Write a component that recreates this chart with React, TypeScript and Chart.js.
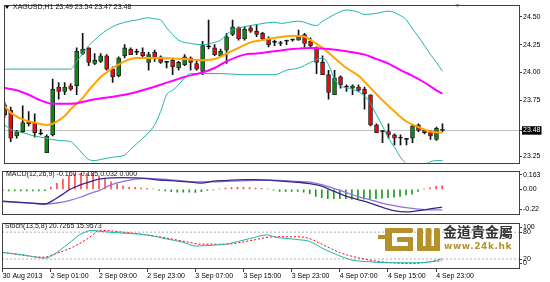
import React, { useEffect, useRef } from 'react';
import { Chart, registerables } from 'chart.js';

Chart.register(...registerables);

// ---------- texts ----------
const symbolLabel = 'XAGUSD,H1';
const macdLabel = 'MACD(12,26,9) -0.160 -0.185 0.032 0.000';
const stochLabel = 'Stoch(13,5,8) 20.7265 15.9573';
const brandName = '金道貴金屬';
const brandUrl = 'www.24k.hk';

// ---------- H1 price bars ----------
const barOpen = [23.71, 23.66, 23.43, 23.47, 23.56, 23.55, 23.45, 23.28, 23.44, 23.87, 23.83, 23.88, 23.88, 24.17, 24.22, 24.08, 24.10, 24.15, 24.03, 23.97, 24.15, 24.21, 24.18, 24.18, 24.09, 24.18, 24.14, 24.09, 24.11, 24.04, 24.07, 24.13, 24.08, 24.01, 24.23, 24.22, 24.15, 24.20, 24.34, 24.40, 24.30, 24.40, 24.37, 24.35, 24.30, 24.27, 24.26, 24.28, 24.29, 24.29, 24.34, 24.28, 24.22, 24.09, 23.98, 23.80, 23.96, 23.87, 23.86, 23.87, 23.85, 23.80, 23.53, 23.47, 23.47, 23.44, 23.41, 23.40, 23.41, 23.53, 23.48, 23.47, 23.40, 23.49];
const barHigh = [23.73, 23.69, 23.48, 23.70, 23.65, 23.63, 23.49, 23.44, 23.94, 23.91, 23.91, 23.90, 24.22, 24.35, 24.22, 24.17, 24.17, 24.16, 24.05, 24.14, 24.25, 24.22, 24.21, 24.22, 24.18, 24.20, 24.15, 24.10, 24.13, 24.10, 24.16, 24.14, 24.10, 24.28, 24.47, 24.25, 24.21, 24.35, 24.47, 24.41, 24.41, 24.42, 24.43, 24.36, 24.32, 24.29, 24.28, 24.29, 24.30, 24.38, 24.35, 24.31, 24.23, 24.15, 24.02, 24.02, 23.97, 23.89, 23.89, 23.89, 23.87, 23.80, 23.54, 23.48, 23.54, 23.45, 23.44, 23.41, 23.53, 23.54, 23.49, 23.48, 23.51, 23.54];
const barLow = [23.60, 23.38, 23.41, 23.46, 23.52, 23.42, 23.44, 23.28, 23.43, 23.76, 23.80, 23.84, 23.80, 24.16, 24.06, 24.07, 24.09, 24.02, 23.91, 23.96, 24.13, 24.16, 24.16, 24.13, 24.02, 24.10, 24.08, 24.04, 23.98, 24.02, 24.06, 24.02, 24.02, 23.98, 24.21, 24.15, 24.14, 24.08, 24.33, 24.29, 24.29, 24.36, 24.32, 24.29, 24.23, 24.24, 24.24, 24.25, 24.28, 24.29, 24.23, 24.23, 23.99, 23.98, 23.76, 23.80, 23.86, 23.83, 23.80, 23.83, 23.67, 23.52, 23.46, 23.37, 23.41, 23.35, 23.35, 23.35, 23.37, 23.47, 23.45, 23.40, 23.39, 23.47];
const barClose = [23.62, 23.41, 23.47, 23.55, 23.54, 23.46, 23.45, 23.43, 23.85, 23.83, 23.87, 23.85, 24.19, 24.21, 24.09, 24.11, 24.15, 24.03, 23.96, 24.13, 24.22, 24.16, 24.18, 24.15, 24.16, 24.13, 24.09, 24.09, 24.05, 24.09, 24.14, 24.09, 24.03, 24.24, 24.23, 24.16, 24.19, 24.32, 24.41, 24.30, 24.39, 24.37, 24.34, 24.30, 24.25, 24.27, 24.26, 24.28, 24.29, 24.33, 24.26, 24.24, 24.09, 23.98, 23.82, 23.95, 23.89, 23.87, 23.88, 23.84, 23.81, 23.53, 23.46, 23.47, 23.44, 23.41, 23.41, 23.40, 23.52, 23.48, 23.46, 23.43, 23.50, 23.48];

// ---------- time axis ----------
const timeTickBars = [0, 8, 16, 24, 32, 40, 48, 56, 64, 72];
const timeTickLabels = ['30 Aug 2013', '2 Sep 01:00', '2 Sep 09:00', '2 Sep 23:00', '3 Sep 07:00', '3 Sep 15:00', '3 Sep 23:00', '4 Sep 07:00', '4 Sep 15:00', '4 Sep 23:00'];

// ---------- price axis ----------
const priceTicks = [24.5, 24.25, 24.0, 23.75, 23.25];

// ---------- Bollinger bands ----------
const upperBandBars = [0, 4, 8, 11, 12, 13, 14, 15, 16, 18, 20, 22, 24, 25, 26, 27, 28, 29, 31, 33, 35, 36, 37, 38, 40, 42, 45, 46, 49, 52, 53, 54, 55, 57, 59, 60, 62, 64, 66, 67, 68, 69, 70, 71, 72, 73];
const upperBandValues = [24.03, 24.03, 24.03, 24.03, 24.10, 24.17, 24.24, 24.29, 24.34, 24.41, 24.45, 24.47, 24.49, 24.48, 24.47, 24.40, 24.34, 24.29, 24.26, 24.25, 24.27, 24.29, 24.34, 24.38, 24.41, 24.43, 24.45, 24.44, 24.46, 24.42, 24.46, 24.49, 24.52, 24.56, 24.54, 24.52, 24.53, 24.55, 24.51, 24.47, 24.39, 24.32, 24.24, 24.16, 24.09, 24.01];
const lowerBandBars = [0, 1, 3, 5, 7, 9, 11, 12, 13, 14, 15, 16, 18, 20, 21, 22, 23, 24, 25, 26, 27, 28, 29, 30, 31, 33, 36, 40, 45, 47, 49, 51, 53, 54, 55, 56, 58, 60, 61, 62, 63, 64, 65, 66, 67, 68, 69, 70, 71, 72, 73];
const lowerBandValues = [23.53, 23.49, 23.46, 23.43, 23.41, 23.39, 23.38, 23.33, 23.27, 23.22, 23.21, 23.22, 23.24, 23.26, 23.31, 23.36, 23.41, 23.46, 23.53, 23.65, 23.80, 23.84, 23.89, 23.95, 23.99, 23.99, 23.99, 23.98, 23.98, 24.02, 24.04, 24.09, 24.13, 24.07, 23.94, 23.88, 23.85, 23.79, 23.72, 23.62, 23.52, 23.41, 23.33, 23.24, 23.18, 23.14, 23.14, 23.17, 23.20, 23.21, 23.21];

// ---------- moving averages ----------
const fastMaBars = [0, 1, 3, 5, 7, 8, 9, 10, 11, 12, 13, 14, 15, 16, 17, 18, 19, 20, 21, 22, 26, 30, 33, 35, 37, 39, 41, 43, 45, 48, 50, 51, 53, 55, 57, 59, 61, 63, 65, 67, 69, 71, 73];
const fastMaValues = [23.70, 23.64, 23.58, 23.55, 23.53, 23.54, 23.57, 23.61, 23.67, 23.72, 23.77, 23.84, 23.90, 23.96, 24.00, 24.04, 24.07, 24.10, 24.12, 24.13, 24.13, 24.12, 24.11, 24.12, 24.17, 24.22, 24.27, 24.29, 24.31, 24.33, 24.32, 24.29, 24.22, 24.13, 24.04, 23.97, 23.86, 23.75, 23.65, 23.56, 23.51, 23.47, 23.46];
const slowMaBars = [0, 2, 4, 6, 8, 11, 15, 20, 23, 26, 30, 33, 35, 37, 40, 42, 45, 48, 51, 54, 57, 60, 62, 64, 66, 68, 70, 72, 73];
const slowMaValues = [23.86, 23.84, 23.80, 23.75, 23.72, 23.72, 23.76, 23.80, 23.84, 23.89, 23.96, 24.00, 24.04, 24.10, 24.16, 24.17, 24.19, 24.21, 24.22, 24.21, 24.19, 24.16, 24.12, 24.08, 24.02, 23.97, 23.91, 23.84, 23.81];

// ---------- MACD ----------
const macdLevels = [0.163, 0, -0.22];
const macdLevelLabels = ['0.163', '0.00', '-0.22'];
const macdMainBars = [0, 5, 7, 8, 9, 10, 11, 12, 13, 15, 16, 18, 20, 22, 24, 26, 28, 30, 32, 33, 35, 37, 40, 42, 45, 48, 51, 53, 55, 57, 59, 61, 63, 65, 67, 69, 71, 73];
const macdMainValues = [-0.106, -0.124, -0.132, -0.111, -0.078, -0.043, -0.005, 0.019, 0.042, 0.077, 0.091, 0.103, 0.106, 0.103, 0.096, 0.084, 0.078, 0.070, 0.061, 0.055, 0.073, 0.079, 0.088, 0.088, 0.079, 0.067, 0.052, 0.029, -0.017, -0.061, -0.092, -0.123, -0.161, -0.192, -0.203, -0.192, -0.176, -0.160];
const macdSignalBars = [0, 5, 7, 9, 11, 13, 15, 16, 18, 20, 22, 24, 26, 29, 32, 35, 38, 42, 45, 48, 51, 53, 55, 57, 59, 61, 63, 65, 67, 69, 71, 73];
const macdSignalValues = [-0.111, -0.126, -0.132, -0.123, -0.101, -0.069, -0.027, -0.011, 0.040, 0.071, 0.092, 0.098, 0.094, 0.080, 0.067, 0.068, 0.073, 0.080, 0.083, 0.074, 0.065, 0.042, 0.009, -0.027, -0.065, -0.092, -0.123, -0.146, -0.165, -0.178, -0.185, -0.185];
const macdHist = [-0.012, -0.015, -0.015, -0.015, -0.015, -0.015, -0.015, -0.012,
  0.021, 0.055, 0.093, 0.124, 0.139, 0.144, 0.144, 0.139, 0.124, 0.098, 0.067, 0.047, 0.029, 0.021, 0.017, 0.012, 0.009,
  0.003, -0.010, -0.015, -0.020, -0.025, -0.025, -0.025, -0.028, -0.020, -0.010, -0.005,
  0.005, 0.012, 0.015, 0.018, 0.018, 0.015, 0.012, 0.008, 0.004,
  -0.008, -0.019, -0.019, -0.019, -0.019, -0.025, -0.040, -0.063, -0.075, -0.083, -0.083, -0.083, -0.085, -0.088, -0.088, -0.088, -0.083, -0.083, -0.080, -0.075, -0.070, -0.063, -0.050, -0.044, -0.019,
  0.003, 0.014, 0.027, 0.032];

// ---------- Stochastic ----------
const stochLevels = [100, 80, 20, 0];
const stochDashedLevels = [80, 20];
const stochMainBars = [0, 3, 7, 8, 11, 13, 15, 16, 20, 24, 27, 30, 32, 35, 37, 41, 44, 45, 49, 51, 53, 55, 58, 61, 64, 68, 71, 73];
const stochMainValues = [34.5, 30.3, 22.1, 26.2, 55.2, 75.9, 84.1, 82.1, 77.9, 73.8, 65.5, 57.2, 49.0, 51.0, 53.1, 65.5, 73.8, 69.7, 63.4, 59.3, 44.8, 32.4, 17.9, 13.8, 11.7, 11.7, 13.8, 20.7];
const stochSignalBars = [0, 7, 8, 12, 15, 16, 20, 26, 31, 33, 37, 42, 45, 49, 51, 53, 56, 60, 63, 68, 71, 73];
const stochSignalValues = [34.5, 24.1, 28.3, 49.0, 73.8, 84.1, 80.0, 69.7, 57.2, 53.1, 53.1, 63.4, 69.7, 69.7, 65.5, 53.1, 34.5, 20.0, 13.8, 9.7, 13.8, 16.0];

// ---------- view settings ----------
const lastBar = barClose.length - 1;
const lastPrice = barClose[lastBar];
const X_MIN = -0.116;
const X_MAX = 85.76;
const PRICE_MIN = 23.19;
const PRICE_MAX = 24.603;
const MACD_MIN = -0.22;
const MACD_MAX = 0.163;
const chartShiftBar = 75.5;

const FONT = "'Liberation Sans', Arial, sans-serif";
const tickFont = { family: FONT, size: 7 };
const FRAME = '#404040';

const pts = (bars: number[], vals: number[]) => bars.map((x, i) => ({ x, y: vals[i] }));
const span = (v: number) => [{ x: X_MIN, y: v }, { x: X_MAX, y: v }];

const framePlugin = {
  id: 'frame',
  afterDraw(chart: any) {
    const { ctx, chartArea: a } = chart;
    ctx.save();
    ctx.strokeStyle = FRAME;
    ctx.lineWidth = 1;
    ctx.strokeRect(Math.round(a.left) + 0.5, Math.round(a.top) + 0.5, Math.round(a.right - a.left), Math.round(a.bottom - a.top));
    ctx.restore();
  },
};

const common = (padding: any) => ({
  responsive: false,
  maintainAspectRatio: false,
  animation: false as const,
  devicePixelRatio: 1,
  events: [] as any[],
  layout: { padding },
  plugins: { legend: { display: false }, tooltip: { enabled: false } },
});

const hiddenX: any = { type: 'linear', min: X_MIN, max: X_MAX, display: false, offset: false, grid: { offset: false } };

const rightAxis = (min: number, max: number, extra: any) => ({
  type: 'linear',
  position: 'right',
  min,
  max,
  beginAtZero: false,
  afterFit: (s: any) => { s.width = 31; },
  grid: { drawOnChartArea: false, drawTicks: true, tickLength: 3, color: FRAME },
  border: { display: false },
  ...extra,
});

const insetTicks = (levels: number[]) => (s: any) => {
  const perPx = (s.max - s.min) / (s.height || 50);
  s.ticks = levels.map((v) => ({ value: Math.min(s.max - 4 * perPx, Math.max(s.min + 5 * perPx, v)) }));
};

const line = (data: any[], color: string, width: number, extra: any = {}) => ({
  type: 'line',
  data,
  borderColor: color,
  borderWidth: width,
  pointRadius: 0,
  fill: false,
  cubicInterpolationMode: 'monotone',
  ...extra,
});

function mainConfig(): any {
  const bodies = barOpen.map((o, i) => ({ x: i, y: [o, barClose[i]] }));
  const wicks = barLow.map((l, i) => ({ x: i, y: [l, barHigh[i]] }));
  const bodyColors = barOpen.map((o, i) => (barClose[i] > o ? '#0a8a0a' : barClose[i] < o ? '#ff0000' : '#000000'));
  return {
    type: 'bar',
    data: {
      datasets: [
        line(pts(slowMaBars, slowMaValues), '#ff00ff', 2),
        line(pts(fastMaBars, fastMaValues), '#ffa500', 2),
        line(pts(upperBandBars, upperBandValues), '#20b2aa', 1),
        line(pts(lowerBandBars, lowerBandValues), '#20b2aa', 1),
        { type: 'bar', data: bodies, backgroundColor: bodyColors, borderColor: '#1a1a1a', borderWidth: 0.8, borderSkipped: false, grouped: false, barThickness: 4, maxBarThickness: 4, minBarLength: 1 },
        { type: 'bar', data: wicks, backgroundColor: '#111', borderWidth: 0, grouped: false, barThickness: 1, maxBarThickness: 1 },
        line(span(lastPrice), '#c0c0c0', 1, { cubicInterpolationMode: 'default' }),
        { type: 'scatter', data: [{ x: chartShiftBar, y: PRICE_MAX }], pointStyle: 'triangle', rotation: 180, pointRadius: 2.5, backgroundColor: '#a0a0a0', borderWidth: 0, clip: false },
      ],
    },
    options: {
      ...common({ left: 2, right: 0, top: 2, bottom: 2 }),
      scales: {
        x: hiddenX,
        y: rightAxis(PRICE_MIN, PRICE_MAX, {
          afterBuildTicks: (s: any) => { s.ticks = [...priceTicks, lastPrice].map((v) => ({ value: v })); },
          ticks: {
            font: tickFont,
            padding: 1,
            autoSkip: false,
            callback: (v: any) => Number(v).toFixed(2),
            color: (c: any) => (c.tick && c.tick.value === lastPrice ? '#ffffff' : '#000000'),
            showLabelBackdrop: true,
            backdropColor: (c: any) => (c.tick && c.tick.value === lastPrice ? '#000000' : 'rgba(0,0,0,0)'),
            backdropPadding: { left: 1, right: 1, top: 0, bottom: 0 },
          },
        }),
      },
    },
    plugins: [framePlugin],
  };
}

function macdConfig(): any {
  return {
    type: 'bar',
    data: {
      datasets: [
        line(pts(macdMainBars, macdMainValues), '#34288f', 1.3),
        line(pts(macdSignalBars, macdSignalValues), '#9370db', 1.3),
        {
          type: 'bar',
          data: macdHist.map((v, i) => ({ x: i, y: v })),
          backgroundColor: macdHist.map((v) => (v >= 0 ? '#ff4d4d' : '#1f9a1f')),
          borderWidth: 0,
          grouped: false,
          barThickness: 1,
          maxBarThickness: 1,
        },
      ],
    },
    options: {
      ...common({ left: 2, right: 0, top: 2, bottom: 2 }),
      scales: {
        x: hiddenX,
        y: rightAxis(MACD_MIN, MACD_MAX, {
          afterBuildTicks: insetTicks(macdLevels),
          ticks: { font: tickFont, color: '#000', padding: 1, autoSkip: false, callback: (_v: any, i: number) => macdLevelLabels[i] },
        }),
      },
    },
    plugins: [framePlugin],
  };
}

function stochConfig(): any {
  return {
    type: 'line',
    data: {
      datasets: [
        line(pts(stochMainBars, stochMainValues), '#20b2aa', 1),
        line(pts(stochSignalBars, stochSignalValues), '#ff0000', 1, { borderDash: [2, 2] }),
        ...stochDashedLevels.map((l) => line(span(l), '#b0b0b0', 1, { borderDash: [2, 2], cubicInterpolationMode: 'default' })),
      ],
    },
    options: {
      ...common({ left: 2, right: 0, top: 2, bottom: 0 }),
      scales: {
        x: {
          type: 'linear',
          min: X_MIN,
          max: X_MAX,
          position: 'bottom',
          offset: false,
          afterFit: (s: any) => { s.height = 14; },
          afterBuildTicks: (s: any) => { s.ticks = timeTickBars.map((v) => ({ value: v })); },
          grid: { drawOnChartArea: false, drawTicks: true, tickLength: 4, color: FRAME, offset: false },
          border: { display: false },
          ticks: { font: tickFont, color: '#000', padding: 0, align: 'start', maxRotation: 0, minRotation: 0, autoSkip: false, callback: (_v: any, i: number) => timeTickLabels[i] },
        },
        y: rightAxis(0, 100, {
          afterBuildTicks: insetTicks(stochLevels),
          ticks: { font: tickFont, color: '#000', padding: 1, autoSkip: false, callback: (_v: any, i: number) => String(stochLevels[i]) },
        }),
      },
    },
    plugins: [framePlugin],
  };
}

const txt: React.CSSProperties = {
  position: 'absolute',
  fontFamily: FONT,
  fontSize: 7,
  lineHeight: '8px',
  color: '#111',
  whiteSpace: 'pre',
};

const GOLD = '#b5902c';

export default function App() {
  const mainRef = useRef<HTMLCanvasElement>(null);
  const macdRef = useRef<HTMLCanvasElement>(null);
  const stochRef = useRef<HTMLCanvasElement>(null);

  useEffect(() => {
    const charts = [
      new Chart(mainRef.current as HTMLCanvasElement, mainConfig()),
      new Chart(macdRef.current as HTMLCanvasElement, macdConfig()),
      new Chart(stochRef.current as HTMLCanvasElement, stochConfig()),
    ];
    return () => charts.forEach((c) => c.destroy());
  }, []);

  const title = `${symbolLabel} ${barOpen[lastBar].toFixed(2)} ${barHigh[lastBar].toFixed(2)} ${barLow[lastBar].toFixed(2)} ${barClose[lastBar].toFixed(2)}`;

  return (
    <div style={{ position: 'absolute', left: 0, top: 0, width: 550, height: 282, background: '#fff', overflow: 'hidden' }}>
      <canvas ref={mainRef} width={550} height={168} style={{ position: 'absolute', left: 0, top: 0 }} />
      <canvas ref={macdRef} width={550} height={53} style={{ position: 'absolute', left: 0, top: 166 }} />
      <canvas ref={stochRef} width={550} height={64} style={{ position: 'absolute', left: 0, top: 218 }} />

      <div style={{ position: 'absolute', left: 5, top: 6, width: 0, height: 0, borderLeft: '2px solid transparent', borderRight: '2px solid transparent', borderTop: '3px solid #000' }} />
      <div style={{ ...txt, left: 13, top: 3 }}>{title}</div>
      <div style={{ ...txt, left: 6, top: 170 }}>{macdLabel}</div>
      <div style={{ ...txt, left: 5, top: 222 }}>{stochLabel}</div>

      <svg width={63} height={23} style={{ position: 'absolute', left: 378, top: 228 }}>
        <g fill={GOLD}>
          <rect x={0} y={7} width={8} height={4} />
          <rect x={7} y={0} width={7} height={23} rx={2} />
          <rect x={7} y={0} width={28} height={5} rx={1.5} />
          <rect x={7} y={18} width={28} height={5} rx={1.5} />
          <rect x={19} y={9} width={16} height={5} rx={1} />
          <rect x={30} y={9} width={5} height={14} rx={1} />
          <rect x={39} y={0} width={6} height={23} rx={1.5} />
          <rect x={47.5} y={0} width={6} height={19} rx={1.5} />
          <rect x={56} y={0} width={6} height={23} rx={1.5} />
          <rect x={39} y={18} width={23} height={5} rx={1.5} />
        </g>
      </svg>
      <div style={{ position: 'absolute', left: 443, top: 224, fontFamily: "'Noto Sans CJK TC', 'Noto Sans CJK SC', sans-serif", fontWeight: 700, fontSize: 14, lineHeight: '15px', color: '#333', whiteSpace: 'pre' }}>{brandName}</div>
      <div style={{ position: 'absolute', left: 444, top: 241, fontFamily: "'DejaVu Sans', sans-serif", fontWeight: 700, fontSize: 9, lineHeight: '10px', letterSpacing: '0.6px', color: GOLD, whiteSpace: 'pre' }}>{brandUrl}</div>
    </div>
  );
}
